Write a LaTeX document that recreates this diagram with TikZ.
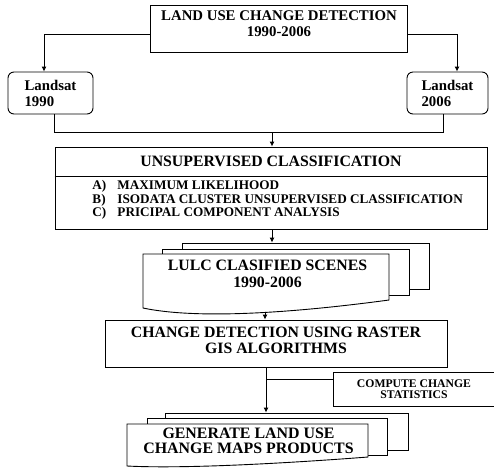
\documentclass[tikz,border=0pt]{standalone}
\usepackage{fontspec}
\setmainfont{Liberation Serif}
\usetikzlibrary{positioning, arrows.meta}

\begin{document}
\begin{tikzpicture}[x=1pt, y=-1pt, line width=0.9pt,
        box/.style={draw, fill=white, inner sep=0pt, align=center},
        words/.style={align=center, inner sep=0pt},
        arr/.style={-{Latex[length=5pt, width=5pt]}}]
            \useasboundingbox (0,0) rectangle (494,467);

            \node [box, minimum width=257pt, minimum height=47pt] (detect) at (278.5,28.5) {};
            \node [words, font=\fontsize{14.8}{16.5}\selectfont\bfseries] (detecttext) at (279,23.5) {LAND USE CHANGE DETECTION\\1990-2006};

            \node [box, rounded corners=6pt, minimum width=85pt, minimum height=42pt, align=left, font=\fontsize{14.8}{16}\selectfont\bfseries] (land90) at (50.5,93) {Landsat\\1990};
            \node [box, rounded corners=6pt, minimum width=81pt, minimum height=42pt, align=left, font=\fontsize{14.8}{16}\selectfont\bfseries] (land06) at (447.5,93) {Landsat\\2006};

            \node [box, minimum width=432pt, minimum height=82pt] (unsup) at (271,188) {};
            \coordinate (divide) at (271,176);
            \node [words, font=\fontsize{15.8}{17}\selectfont\bfseries] (unsuptitle) at (271,161.5) {UNSUPERVISED CLASSIFICATION};
            \node [words, anchor=west, align=left, font=\fontsize{13.2}{13.6}\selectfont\bfseries] (methods) at (92,200) {\makebox[25pt][l]{A)}MAXIMUM LIKELIHOOD\\\makebox[25pt][l]{B)}ISODATA CLUSTER UNSUPERVISED CLASSIFICATION\\\makebox[25pt][l]{C)}PRICIPAL COMPONENT ANALYSIS};

            \node [box, minimum width=247pt, minimum height=46pt] (scenes3) at (305.5,266) {};
            \node [box, minimum width=247pt, minimum height=46pt] (scenes2) at (285.5,272) {};
            \draw [fill=white] (143,254) -- (389,254) -- (389,300) .. controls (300,312) and (200,320) .. (143,308) -- cycle;
            \node [words, font=\fontsize{15.8}{17}\selectfont\bfseries] (scenes) at (267.5,273.5) {LULC CLASIFIED SCENES\\1990-2006};
            \coordinate (scenesbase) at (265,311.5);

            \node [box, minimum width=342pt, minimum height=47pt] (change) at (276,343.5) {};
            \node [words, font=\fontsize{15.8}{16}\selectfont\bfseries] (changetext) at (276,340) {CHANGE DETECTION USING RASTER\\GIS ALGORITHMS};

            \node [box, minimum width=161pt, minimum height=34pt, font=\fontsize{11.7}{11}\selectfont\bfseries] (stats) at (414,389.5) {COMPUTE CHANGE\\STATISTICS};
            \coordinate (branch) at (266,379);

            \node [box, minimum width=243pt, minimum height=37pt] (maps3) at (286.5,431.5) {};
            \node [box, minimum width=240pt, minimum height=37pt] (maps2) at (267,436.5) {};
            \draw [fill=white] (127,424) -- (368,424) -- (368,457) .. controls (290,463) and (185,469) .. (127,466) -- cycle;
            \node [words, font=\fontsize{15.9}{15}\selectfont\bfseries] (maps) at (248.5,440.5) {GENERATE LAND USE\\CHANGE MAPS PRODUCTS};

            \draw [arr] ([yshift=-5.5pt]detect.west) -| ([xshift=-6.5pt]land90.north);
            \draw [arr] ([yshift=-5.5pt]detect.east) -| ([xshift=9.5pt]land06.north);
            \coordinate (merge) at (272,132);
            \draw ([xshift=3.5pt]land90.south) |- ([xshift=-4.5pt]land06.south |- merge) -- ([xshift=-4.5pt]land06.south);
            \draw [arr] (merge) -- (merge |- unsup.north);
            \draw (unsup.west |- divide) -- (unsup.east |- divide);
            \draw [arr] ([xshift=1pt]unsup.south) -- ([xshift=1pt]unsup.south |- scenes3.north);
            \draw [arr] (scenesbase) -- (scenesbase |- change.north);
            \draw [arr] ([xshift=-10pt]change.south) -- ([xshift=-10pt]change.south |- maps3.north);
            \draw (branch) -- (branch -| stats.west);
        \end{tikzpicture}
\end{document}
